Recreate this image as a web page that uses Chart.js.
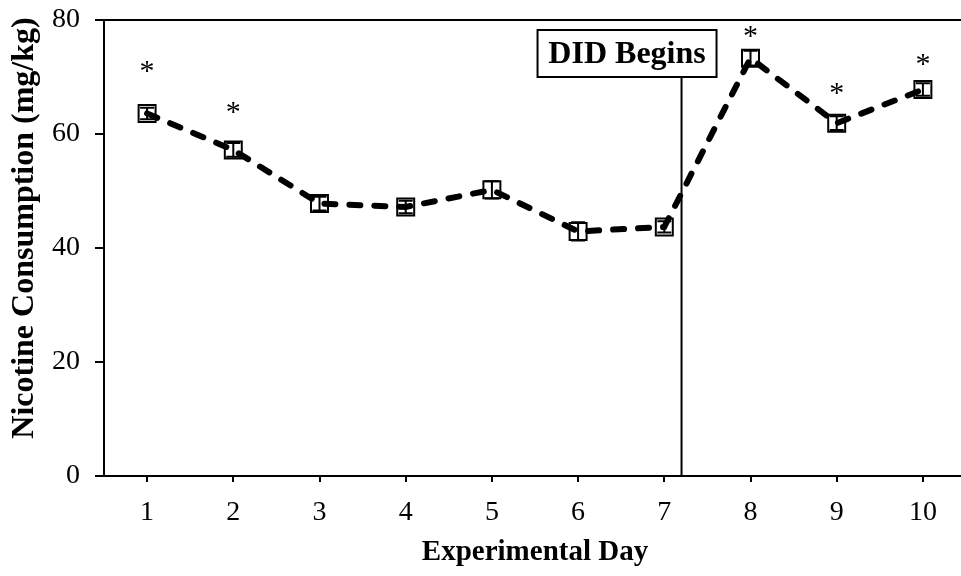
<!DOCTYPE html>
<html>
<head>
<meta charset="utf-8">
<script src="https://cdn.jsdelivr.net/npm/chart.js@4"></script>
<style>
  html, body { margin: 0; padding: 0; background: #fff; overflow: hidden; }
  #myChart { display: block; }
</style>
</head>
<body>
<canvas id="myChart" width="980" height="576"></canvas>
<script>
// Data
const days = ['1', '2', '3', '4', '5', '6', '7', '8', '9', '10'];
const consumption = [63.6, 57.2, 47.8, 47.2, 50.2, 42.9, 43.7, 73.3, 61.9, 67.8];
const sem = [1.0, 1.2, 1.2, 1.1, 1.5, 1.6, 1.0, 1.3, 1.2, 1.1];
// height (mg/kg) of the significance asterisk for each day, null = none
const starAt = [71.8, 64.6, null, null, null, null, null, 77.9, 67.9, 73.1];
const yTicks = [0, 20, 40, 60, 80];
const didAt = 7.2; // day where DID begins
const didLabel = 'DID Begins';

const serif = '"Liberation Serif", "Times New Roman", serif';

// Extra drawing: frame line, error bars, asterisks, DID marker, axis titles
const extras = {
    id: 'extras',
    afterDatasetsDraw(chart) {
        const ctx = chart.ctx;
        const area = chart.chartArea;
        const x = chart.scales.x;
        const y = chart.scales.y;
        ctx.save();
        ctx.strokeStyle = '#000';
        ctx.fillStyle = '#000';

        // top frame line
        ctx.lineWidth = 2;
        ctx.beginPath();
        ctx.moveTo(area.left - 9, area.top);
        ctx.lineTo(area.right + 20, area.top);
        ctx.stroke();

        // error bars
        ctx.lineWidth = 2;
        consumption.forEach((v, i) => {
            const px = x.getPixelForValue(i);
            const top = y.getPixelForValue(v + sem[i]);
            const bot = y.getPixelForValue(v - sem[i]);
            ctx.beginPath();
            ctx.moveTo(px, top); ctx.lineTo(px, bot);
            ctx.moveTo(px - 7, top); ctx.lineTo(px + 7, top);
            ctx.moveTo(px - 7, bot); ctx.lineTo(px + 7, bot);
            ctx.stroke();
        });

        // asterisks
        ctx.font = '30px ' + serif;
        ctx.textAlign = 'center';
        ctx.textBaseline = 'alphabetic';
        starAt.forEach((s, i) => {
            if (s === null) return;
            const m = ctx.measureText('*');
            const px = x.getPixelForValue(i);
            const py = y.getPixelForValue(s);
            const mid = (m.actualBoundingBoxAscent - m.actualBoundingBoxDescent) / 2;
            ctx.fillText('*', px, py + mid);
        });

        // DID line and box
        const lx = x.getPixelForValue(didAt - 1);
        const boxL = lx - 144, boxR = lx + 35, boxT = area.top + 10, boxB = area.top + 57;
        ctx.lineWidth = 2;
        ctx.beginPath();
        ctx.moveTo(lx, boxB);
        ctx.lineTo(lx, area.bottom);
        ctx.stroke();
        ctx.fillStyle = '#fff';
        ctx.fillRect(boxL, boxT, boxR - boxL, boxB - boxT);
        ctx.strokeRect(boxL, boxT, boxR - boxL, boxB - boxT);
        ctx.fillStyle = '#000';
        ctx.font = 'bold 32px ' + serif;
        ctx.textBaseline = 'middle';
        ctx.fillText(didLabel, (boxL + boxR) / 2, (boxT + boxB) / 2 + 1);

        // axis titles
        ctx.font = 'bold 29px ' + serif;
        ctx.fillText('Experimental Day', (area.left + area.right) / 2, 553);
        ctx.translate(25, 228);
        ctx.rotate(-Math.PI / 2);
        ctx.font = 'bold 32px ' + serif;
        ctx.fillText('Nicotine Consumption (mg/kg)', 0, 0);
        ctx.restore();
    }
};

const config = {
    type: 'line',
    data: {
        labels: days,
        datasets: [{
            data: consumption,
            borderColor: '#000',
            borderWidth: 6,
            borderDash: [11, 14],
            borderCapStyle: 'round',
            tension: 0,
            fill: false,
            pointStyle: 'rect',
            pointRadius: 12,
            pointBorderWidth: 2,
            pointBorderColor: '#000',
            pointBackgroundColor: 'rgba(0,0,0,0)'
        }]
    },
    options: {
        responsive: false,
        animation: false,
        layout: { padding: { top: 20, right: 0, left: 0, bottom: 0 } },
        plugins: {
            legend: { display: false },
            tooltip: { enabled: false }
        },
        scales: {
            x: {
                offset: true,
                grid: { drawOnChartArea: false, drawTicks: true, tickLength: 6, color: '#000', lineWidth: 2, offset: false },
                border: { display: true, color: '#000', width: 2 },
                ticks: { color: '#000', font: { family: serif, size: 28 }, padding: 14, maxRotation: 0 },
                afterFit(scale) {
                    scale.height = 100;
                    scale.paddingLeft = 0;
                    scale.paddingRight = 0;
                }
            },
            y: {
                min: 0,
                max: 80,
                afterBuildTicks(scale) { scale.ticks = yTicks.map(v => ({ value: v })); },
                grid: { drawOnChartArea: false, drawTicks: true, tickLength: 9, color: '#000', lineWidth: 2 },
                border: { display: true, color: '#000', width: 2 },
                ticks: { color: '#000', font: { family: serif, size: 28 }, padding: 15 },
                afterFit(scale) {
                    scale.width = 104;
                    scale.paddingTop = 0;
                    scale.paddingBottom = 0;
                }
            }
        }
    },
    plugins: [extras]
};

window.myChart = new Chart(document.getElementById('myChart'), config);
</script>
</body>
</html>
